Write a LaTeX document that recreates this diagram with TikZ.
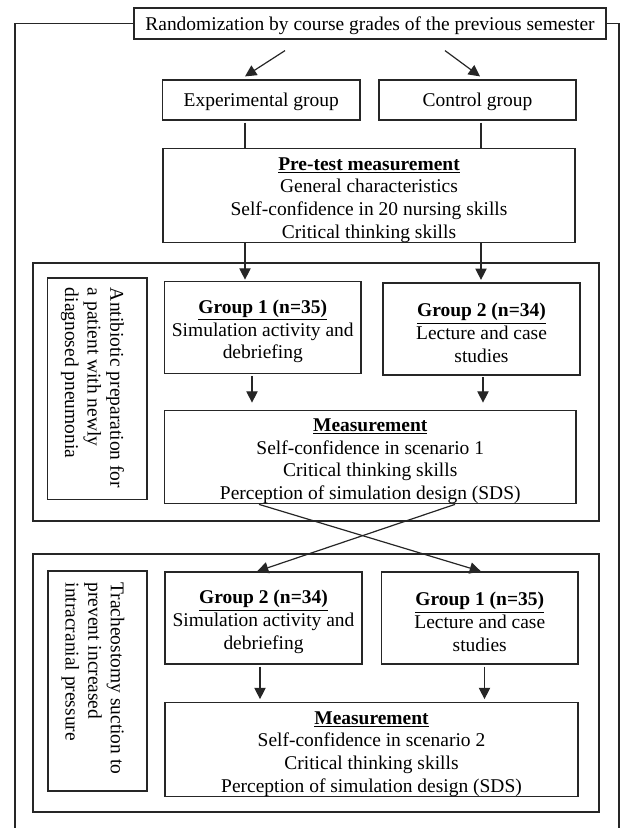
\documentclass[tikz,border=0pt]{standalone}
\usepackage{fontspec}
\setmainfont{Liberation Serif}
\usetikzlibrary{arrows.meta,calc}
\newcommand\grptitle[1]{\rule{0pt}{16pt}\underline{\textbf{#1}}}
\begin{document}
\begin{tikzpicture}[x=0.75pt,y=-0.75pt,
  lw/.style={draw=black!85, line width=0.9pt},
  box/.style={lw, inner sep=0pt, align=center, font=\fontsize{14.6pt}{17pt}\selectfont},
  txt/.style={inner sep=0pt, font=\fontsize{14.6pt}{17pt}\selectfont},
  sz/.style 2 args={minimum width=#1*0.75pt, minimum height=#2*0.75pt},
  arr/.style={lw, -{Triangle[length=8.5pt,width=8.5pt]}},
  ln/.style={lw}
]
\useasboundingbox (0,0) rectangle (620,828);

% top
\node[box, sz={472}{31}, text depth=0pt] (rand) at (370,23.5) {Randomization by course grades of the previous semester};
\node[box, sz={197.5}{40}, text depth=0pt] (exp) at (261.25,100) {Experimental group};
\node[box, sz={197}{40}, text depth=0pt] (ctrl) at (477.5,100) {Control group};
\node[box, sz={412}{93}] (pre) at (369,195.5) {\grptitle{Pre-test measurement}\\General characteristics\\Self-confidence in 20 nursing skills\\Critical thinking skills};

% outer frame
\coordinate (fl) at (15,828);
\coordinate (fr) at (619,828);
\draw[ln] (rand.west) -- (fl |- rand.west) -- (fl);
\draw[ln] (rand.east) -- (fr |- rand.east) -- (fr);

% phase 1
\node[box, sz={566}{258}] (ph1) at (316,392) {};
\node[box, sz={99.5}{221.5}] (side1) at (97.25,388.75) {};
\node[txt, rotate=-90, align=left] (side1t) at (92.5,388) {Antibiotic preparation for\\a patient with newly\\diagnosed pneumonia};
\node[box, sz={196.5}{92}] (g1a) at (262.75,327.75) {\grptitle{Group 1 (n=35)}\\Simulation activity and\\debriefing};
\node[box, sz={197}{92}] (g2a) at (481.5,329) {\grptitle{Group 2 (n=34)}\\Lecture and case\\studies};
\node[box, sz={411.5}{92}] (m1) at (370.25,457) {\grptitle{Measurement}\\Self-confidence in scenario 1\\Critical thinking skills\\Perception of simulation design (SDS)};

% phase 2
\node[box, sz={566}{258}] (ph2) at (316,683) {};
\node[box, sz={99}{220}] (side2) at (97.5,681) {};
\node[txt, rotate=-90, align=left] (side2t) at (93,678.5) {Tracheostomy suction to\\prevent increased\\intracranial pressure};
\node[box, sz={197}{92}] (g2b) at (263.5,618) {\grptitle{Group 2 (n=34)}\\Simulation activity and\\debriefing};
\node[box, sz={196.5}{92}] (g1b) at (479.75,618) {\grptitle{Group 1 (n=35)}\\Lecture and case\\studies};
\node[box, sz={413}{93}] (m2) at (371.5,749.5) {\grptitle{Measurement}\\Self-confidence in scenario 2\\Critical thinking skills\\Perception of simulation design (SDS)};

% connectors
\draw[arr] ($(rand.south)+(-85,11)$) -- ($(exp.north)+(-16.25,-3)$);
\draw[arr] ($(rand.south)+(75,11)$) -- ($(ctrl.north)+(2.5,-3)$);
\coordinate (eL) at ($(exp.south)+(-16.25,2)$);
\coordinate (cL) at ($(ctrl.south)+(3.5,2)$);
\draw[ln] (eL) -- (eL |- pre.north);
\draw[ln] (cL) -- (cL |- pre.north);
\draw[arr] ($(pre.south)+(-124,0)$) -- ($(g1a.north)+(-17.75,-1.5)$);
\draw[arr] ($(pre.south)+(112,0)$) -- ($(g2a.north)+(-0.5,-2.5)$);
\draw[arr] ($(g1a.south)+(-10.75,1.5)$) -- ($(m1.north)+(-118.25,-7)$);
\draw[arr] ($(g2a.south)+(1.5,1.5)$) -- ($(m1.north)+(112.75,-7)$);
\draw[arr] ($(m1.south)+(-111.25,0)$) -- ($(g1b.north)+(1.25,0)$);
\draw[arr] ($(m1.south)+(84.75,0)$) -- ($(g2b.north)+(-6.5,0)$);
\draw[arr] ($(g2b.south)+(-3.5,2)$) -- ($(m2.north)+(-111.5,-3)$);
\draw[arr] ($(g1b.south)+(4.75,2)$) -- ($(m2.north)+(113,-3)$);
\end{tikzpicture}
\end{document}
